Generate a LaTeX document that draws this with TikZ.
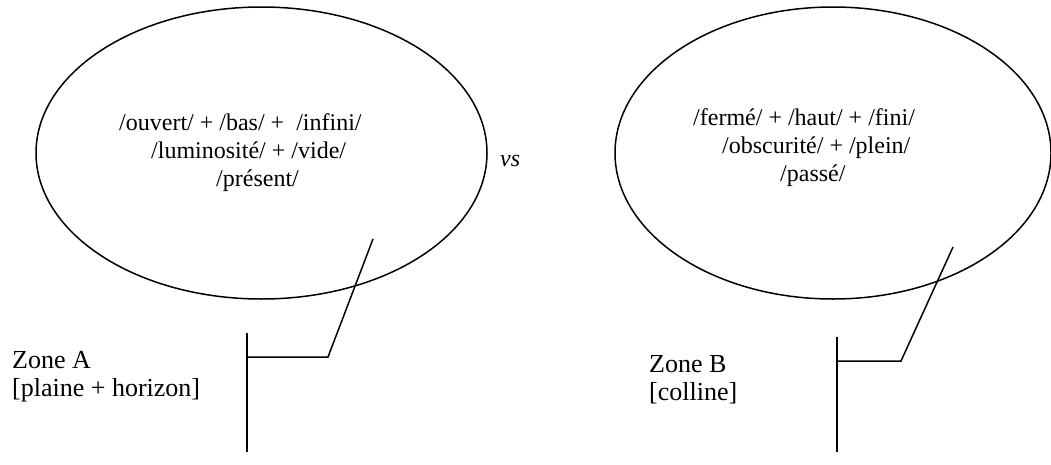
\documentclass[tikz,border=0pt]{standalone}
\usepackage{fontspec}
\setmainfont{Liberation Serif}
\usetikzlibrary{shapes.geometric}
\tikzset{
  bubble/.style={draw, ellipse, line width=1.5pt, inner sep=0pt},
  txt/.style={anchor=base west, inner sep=0pt, font=\fontsize{24}{27.6}\selectfont},
  zonetxt/.style={anchor=base west, inner sep=0pt, font=\fontsize{26}{29}\selectfont},
  link/.style={draw, line width=1.5pt},
}
\begin{document}
\begin{tikzpicture}[x=1pt,y=-1pt]
\useasboundingbox (0,0) rectangle (1051,464);
% ellipses
\node[bubble, minimum width=451pt, minimum height=292pt] (ellA) at (261.5,153) {};
\node[bubble, minimum width=436pt, minimum height=292pt] (ellB) at (833,153) {};
% texts in A
\node[txt] (a1) at (119,130) {/ouvert/ + /bas/ +\ \ /infini/};
\node[txt] (a2) at (151,158) {/luminosité/ + /vide/};
\node[txt] (a3) at (216,186) {/présent/};
% texts in B
\node[txt] (b1) at (693,125) {/fermé/ + /haut/ + /fini/};
\node[txt] (b2) at (722,153) {/obscurité/ + /plein/};
\node[txt] (b3) at (780,181) {/passé/};
% vs
\node[txt] (vs) at (500,166) {\itshape vs};
% zone labels
\node[zonetxt] (za1) at (12,368) {Zone A};
\node[zonetxt] (za2) at (12,396) {[plaine + horizon]};
\node[zonetxt] (zb1) at (649,372) {Zone B};
\node[zonetxt] (zb2) at (649,400) {[colline]};
% connectors A
\coordinate (pa1) at (373,239);
\coordinate (pa2) at (328,357);
\coordinate (pa3) at (247,357);
\coordinate (ta) at (247,333);
\coordinate (ba) at (247,452);
\draw[link] (pa1) -- (pa2) -- (pa3);
\draw[link] (ta) -- (ba);
% connectors B
\coordinate (pb1) at (953,247);
\coordinate (pb2) at (901,361);
\coordinate (pb3) at (837,361);
\coordinate (tb) at (837,337);
\coordinate (bb) at (837,452);
\draw[link] (pb1) -- (pb2) -- (pb3);
\draw[link] (tb) -- (bb);
\end{tikzpicture}
\end{document}
